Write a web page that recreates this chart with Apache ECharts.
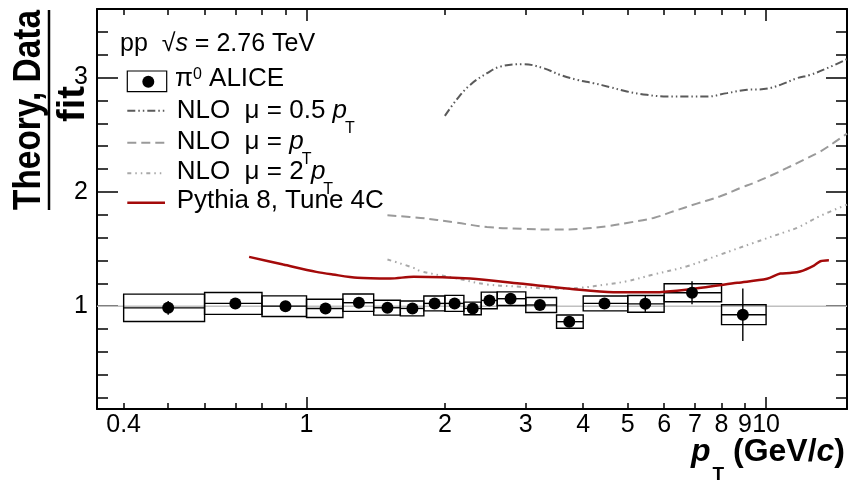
<!DOCTYPE html>
<html><head><meta charset="utf-8">
<script src="https://cdn.jsdelivr.net/npm/echarts@6/dist/echarts.min.js"></script>
<style>html,body{margin:0;padding:0;background:#fff}#c{width:851px;height:480px}</style>
</head><body><div id="c"></div>
<script>
// ---------------- data ----------------
const binLo   = [0.4, 0.6, 0.8, 1.0, 1.2, 1.4, 1.6, 1.8, 2.0, 2.2, 2.4, 2.6, 3.0, 3.5, 4.0, 5.0, 6.0, 8.0];
const binHi   = [0.6, 0.8, 1.0, 1.2, 1.4, 1.6, 1.8, 2.0, 2.2, 2.4, 2.6, 3.0, 3.5, 4.0, 5.0, 6.0, 8.0, 10.0];
const ptX     = [0.5, 0.7, 0.9, 1.1, 1.3, 1.5, 1.7, 1.9, 2.1, 2.3, 2.5, 2.78, 3.22, 3.73, 4.45, 5.46, 6.9, 8.9];
const ratio   = [0.985, 1.024, 1.0, 0.98, 1.03, 0.986, 0.98, 1.024, 1.024, 0.98, 1.05, 1.065, 1.01, 0.864, 1.024, 1.02, 1.117, 0.925];
const statErr = [0.06, 0.02, 0.02, 0.02, 0.02, 0.02, 0.02, 0.02, 0.02, 0.02, 0.02, 0.02, 0.02, 0.03, 0.03, 0.07, 0.10, 0.23];
const sysErr  = [0.12, 0.096, 0.09, 0.08, 0.076, 0.065, 0.065, 0.065, 0.07, 0.055, 0.073, 0.06, 0.065, 0.058, 0.065, 0.073, 0.079, 0.087];

const nlo05X = [2.0, 2.12, 2.27, 2.47, 2.64, 2.96, 3.28, 3.56, 3.88, 4.21, 4.58, 4.98, 5.5, 6.08, 6.73, 7.44, 8.22, 9.09, 9.88, 10.74, 11.68, 12.49, 13.58, 15.0];
const nlo05Y = [2.665, 2.805, 2.936, 3.038, 3.096, 3.117, 3.082, 3.024, 2.98, 2.951, 2.916, 2.878, 2.849, 2.834, 2.834, 2.834, 2.864, 2.893, 2.899, 2.936, 2.995, 3.024, 3.082, 3.161];

const nlo1X = [1.5, 1.77, 2.09, 2.47, 2.96, 3.45, 3.94, 4.5, 4.98, 5.69, 6.29, 7.07, 7.95, 8.79, 9.4, 10.22, 11.11, 12.08, 13.13, 14.28, 15.0];
const nlo1Y = [1.795, 1.772, 1.734, 1.693, 1.676, 1.67, 1.676, 1.699, 1.728, 1.772, 1.83, 1.897, 1.961, 2.034, 2.078, 2.141, 2.209, 2.281, 2.354, 2.45, 2.51];

const nlo2X = [1.5, 1.71, 1.77, 2.09, 2.47, 2.91, 3.45, 3.94, 4.5, 4.98, 5.69, 6.73, 7.95, 9.4, 11.11, 11.68, 13.13, 15.0];
const nlo2Y = [1.408, 1.335, 1.306, 1.248, 1.19, 1.17, 1.152, 1.161, 1.19, 1.218, 1.277, 1.349, 1.451, 1.554, 1.655, 1.685, 1.79, 1.888];

const pyX = [0.75, 0.89, 1.05, 1.14, 1.29, 1.52, 1.71, 2.27, 2.91, 3.74, 4.65, 5.69, 6.96, 8.66, 10.05, 10.74, 11.28, 11.86, 12.71, 13.13, 13.7];
const pyY = [1.431, 1.364, 1.30, 1.277, 1.248, 1.242, 1.257, 1.242, 1.198, 1.152, 1.122, 1.122, 1.152, 1.204, 1.239, 1.285, 1.29, 1.303, 1.355, 1.393, 1.402];

const unityX = [0.35, 15];
const unityY = [1, 1];

const xMajorTicks = [1, 10];
const xMinorTicks = [0.4, 0.5, 0.6, 0.7, 0.8, 0.9, 2, 3, 4, 5, 6, 7, 8, 9];
const xTickLabels = [0.4, 1, 2, 3, 4, 5, 6, 7, 8, 9, 10];
const yMajorTicks = [1, 2, 3];
const yMinorTicks = [0.2, 0.4, 0.6, 0.8, 1.2, 1.4, 1.6, 1.8, 2.2, 2.4, 2.6, 2.8, 3.2, 3.4];
const yTickLabels = [1, 2, 3];

// ---------------- chart ----------------
const FONT = '"Liberation Sans", Arial, Helvetica, sans-serif';
const zip = (a, b) => a.map((v, i) => [v, b[i]]);
const fmt = v => String(Math.round(v * 10) / 10);

function xAx(pos, ticks, len, line, labels) {
  return {
    type: 'log', logBase: 10, min: 0.35, max: 15, position: pos,
    axisLine: { show: line, onZero: false, lineStyle: { color: '#000', width: 2 } },
    axisTick: { show: true, inside: true, length: len, customValues: ticks, lineStyle: { color: '#000', width: 1.5 } },
    axisLabel: labels ? { show: true, customValues: labels, fontSize: 25, fontFamily: FONT, color: '#000', margin: 4, formatter: fmt } : { show: false },
    splitLine: { show: false }, minorTick: { show: false }, minorSplitLine: { show: false }
  };
}
function yAx(pos, ticks, len, line, labels) {
  return {
    type: 'value', min: 0.1, max: 3.6, position: pos,
    axisLine: { show: line, onZero: false, lineStyle: { color: '#000', width: 2 } },
    axisTick: { show: true, inside: true, length: len, customValues: ticks, lineStyle: { color: '#000', width: 1.5 } },
    axisLabel: labels ? { show: true, customValues: labels, fontSize: 25, fontFamily: FONT, color: '#000', margin: 9, formatter: fmt } : { show: false },
    splitLine: { show: false }
  };
}

// text helpers for TLatex-like labels
const mctx = document.createElement('canvas').getContext('2d');
function fontStr(p) { return (p.italic ? 'italic ' : '') + (p.bold ? 'bold ' : '') + p.size + 'px ' + FONT; }
function tw(p) { mctx.font = fontStr(p); return mctx.measureText(p.t).width; }
const graphics = [];
function runs(x, base, parts, alignRight) {
  let total = 0;
  parts.forEach(p => { total += (p.dx || 0) + tw(p); });
  let cx = alignRight ? x - total : x;
  parts.forEach(p => {
    cx += (p.dx || 0);
    graphics.push({ type: 'text', x: cx, y: base + (p.dy || 0) - 0.31 * p.size, silent: true, z: 100,
      style: { text: p.t, font: fontStr(p), fill: '#000', textAlign: 'left', textVerticalAlign: 'middle' } });
    cx += tw(p);
  });
}
const L = 26, S = 16;
runs(120, 51.7, [{ t: 'pp  \u221A', size: 25 }, { t: 's', size: 25, italic: true }, { t: ' = 2.76 TeV', size: 25 }]);
runs(175, 86.7, [{ t: '\u03C0', size: L }, { t: '0', size: S, dy: -7 }, { t: ' ALICE', size: L }]);
runs(176.7, 118.5, [{ t: 'NLO  \u03BC = 0.5 ', size: L }, { t: 'p', size: L, italic: true }, { t: 'T', size: S, dy: 15, dx: -2 }]);
runs(176.7, 150, [{ t: 'NLO  \u03BC = ', size: L }, { t: 'p', size: L, italic: true }, { t: 'T', size: S, dy: 15, dx: -2 }]);
runs(176.7, 179.5, [{ t: 'NLO  \u03BC = 2 ', size: L }, { t: 'p', size: L, italic: true }, { t: 'T', size: S, dy: 15, dx: -2 }]);
runs(176.7, 208.5, [{ t: 'Pythia 8, Tune 4C', size: L }]);
// x-axis title
runs(845, 461.7, [{ t: 'p', size: 32, bold: true, italic: true }, { t: 'T', size: 19, bold: true, dy: 19, dx: 2 },
  { t: ' (GeV/', size: 32, bold: true }, { t: 'c', size: 32, bold: true, italic: true }, { t: ')', size: 32, bold: true }], true);
// y-axis title (fraction)
const numP = { t: 'Theory, Data', size: 38, bold: true };
const numW = tw(numP);
graphics.push({ type: 'text', x: 41 - 0.31 * 38, y: 110, rotation: Math.PI / 2, scaleX: 200 / numW, scaleY: 1, silent: true,
  style: { text: numP.t, font: fontStr(numP), fill: '#000', textAlign: 'center', textVerticalAlign: 'middle' } });
graphics.push({ type: 'text', x: 85 - 0.31 * 38, y: 104, rotation: Math.PI / 2, silent: true,
  style: { text: 'fit', font: fontStr({ size: 38, bold: true }), fill: '#000', textAlign: 'center', textVerticalAlign: 'middle' } });
graphics.push({ type: 'line', silent: true, shape: { x1: 49, y1: 10, x2: 49, y2: 210 }, style: { stroke: '#000', lineWidth: 2.5 } });
// legend symbols
graphics.push({ type: 'rect', silent: true, shape: { x: 127.3, y: 71, width: 39.4, height: 20.7 }, style: { stroke: '#000', fill: 'none', lineWidth: 1.2 } });
graphics.push({ type: 'circle', silent: true, shape: { cx: 148.3, cy: 81.7, r: 6 }, style: { fill: '#000' } });
const legLines = [
  { y: 110.7, color: '#5a5a5a', dash: [8, 3, 1.5, 3, 1.5, 3], w: 2 },
  { y: 142.7, color: '#9a9a9a', dash: [9, 5], w: 2 },
  { y: 173.3, color: '#a8a8a8', dash: [4, 4, 1.5, 4, 1.5, 4], w: 2 },
  { y: 202.7, color: '#a40a0a', dash: null, w: 2.5 }
];
legLines.forEach(o => graphics.push({ type: 'line', silent: true, shape: { x1: 127.3, y1: o.y, x2: 165, y2: o.y },
  style: { stroke: o.color, lineWidth: o.w, lineDash: o.dash } }));

const boxData = ptX.map((x, i) => [x, ratio[i], binLo[i], binHi[i], statErr[i], sysErr[i]]);

const option = {
  animation: false,
  backgroundColor: '#fff',
  grid: { left: 97, right: 4, top: 9, bottom: 71, containLabel: false, outerBoundsMode: 'none' },
  xAxis: [
    xAx('bottom', xMajorTicks, 12, true, xTickLabels),
    xAx('bottom', xMinorTicks, 6, false, null),
    xAx('top', xMajorTicks, 12, true, null),
    xAx('top', xMinorTicks, 6, false, null)
  ],
  yAxis: [
    yAx('left', yMajorTicks, 21, true, yTickLabels),
    yAx('left', yMinorTicks, 11, false, null),
    yAx('right', yMajorTicks, 21, true, null),
    yAx('right', yMinorTicks, 11, false, null)
  ],
  graphic: graphics,
  series: [
    { type: 'line', name: 'unity', data: zip(unityX, unityY), showSymbol: false, silent: true, z: 1,
      lineStyle: { color: '#c0c0c0', width: 1.5 } },
    { type: 'custom', name: 'pi0 ALICE sys', data: boxData, encode: { x: 0, y: 1 }, z: 3, silent: true,
      renderItem: function (params, api) {
        const x = api.value(0), y = api.value(1), lo = api.value(2), hi = api.value(3), st = api.value(4), sy = api.value(5);
        const tl = api.coord([lo, y + sy]), br = api.coord([hi, y - sy]);
        const l = api.coord([lo, y]), r = api.coord([hi, y]);
        const t = api.coord([x, y + st]), b = api.coord([x, y - st]);
        const s = { stroke: '#000', lineWidth: 1.4, fill: null };
        return { type: 'group', children: [
          { type: 'rect', shape: { x: tl[0], y: tl[1], width: br[0] - tl[0], height: br[1] - tl[1] }, style: { stroke: '#000', fill: 'none', lineWidth: 1.4 } },
          { type: 'line', shape: { x1: l[0], y1: l[1], x2: r[0], y2: r[1] }, style: s },
          { type: 'line', shape: { x1: t[0], y1: t[1], x2: b[0], y2: b[1] }, style: s }
        ] };
      } },
    { type: 'line', name: 'NLO 0.5pT', data: zip(nlo05X, nlo05Y), showSymbol: false, smooth: 0.4, z: 4,
      lineStyle: { color: '#5a5a5a', width: 2, type: [8, 3, 1.5, 3, 1.5, 3] } },
    { type: 'line', name: 'NLO pT', data: zip(nlo1X, nlo1Y), showSymbol: false, smooth: 0.4, z: 4,
      lineStyle: { color: '#9a9a9a', width: 2, type: [9, 5] } },
    { type: 'line', name: 'NLO 2pT', data: zip(nlo2X, nlo2Y), showSymbol: false, smooth: 0.4, z: 4,
      lineStyle: { color: '#a8a8a8', width: 2, type: [4, 4, 1.5, 4, 1.5, 4] } },
    { type: 'line', name: 'Pythia 8', data: zip(pyX, pyY), showSymbol: false, smooth: 0.3, z: 5,
      lineStyle: { color: '#a40a0a', width: 2.5 } },
    { type: 'scatter', name: 'pi0 ALICE', data: zip(ptX, ratio), symbol: 'circle', symbolSize: 12, z: 6,
      itemStyle: { color: '#000', opacity: 1 } }
  ]
};
const chart = echarts.init(document.getElementById('c'), null, { renderer: 'canvas' });
chart.setOption(option);
</script></body></html>
